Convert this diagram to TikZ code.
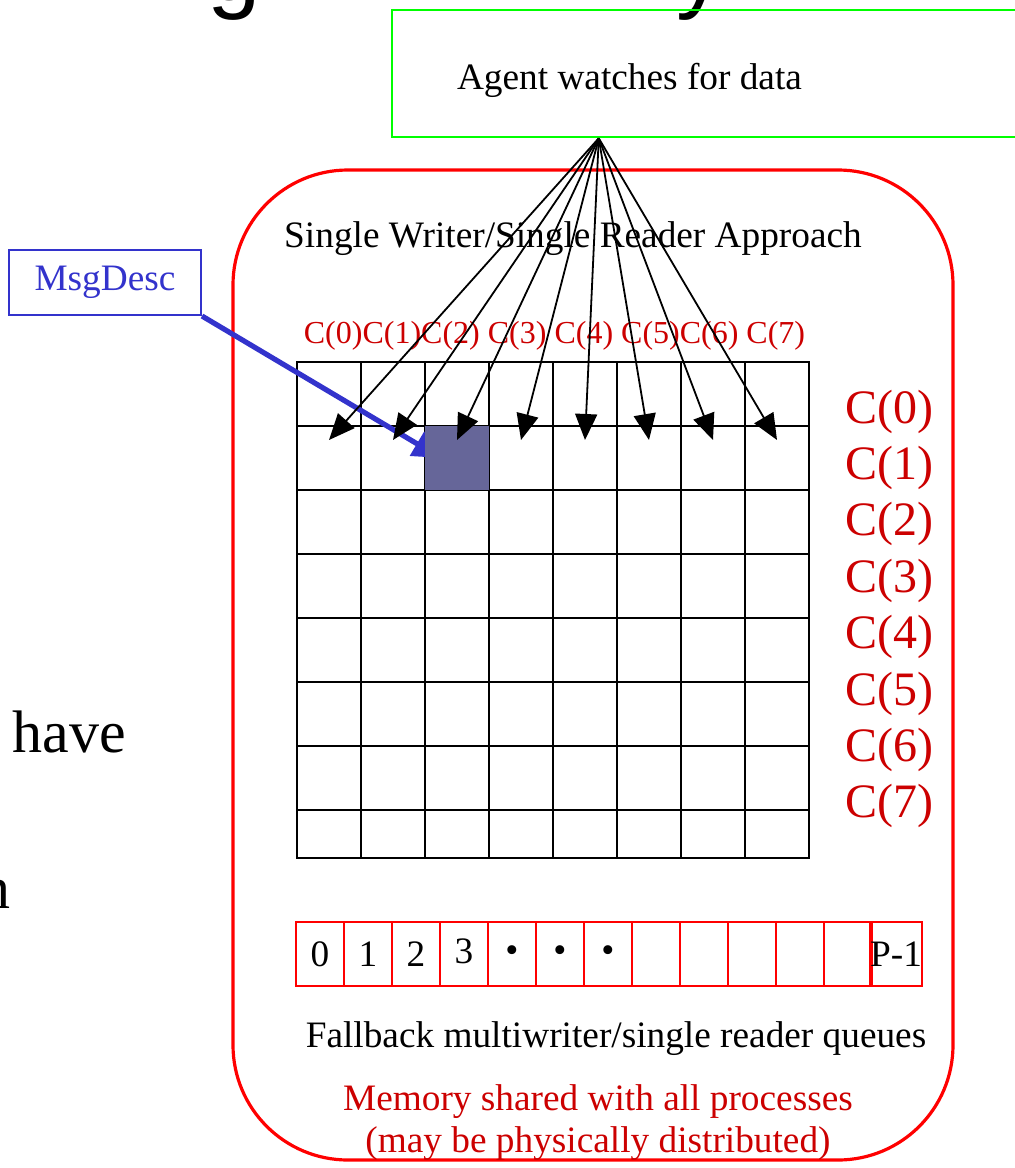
\documentclass[tikz,border=0pt]{standalone}
\usepackage{fontspec}
\setmainfont{Liberation Serif}
\newfontfamily\titlefont{Liberation Sans}
\usetikzlibrary{arrows.meta, positioning}
\definecolor{deepred}{RGB}{204,0,0}
\definecolor{slate}{RGB}{102,102,153}
\definecolor{msgblue}{RGB}{51,51,204}
\definecolor{agentgreen}{RGB}{0,255,0}

\begin{document}
\begin{tikzpicture}[
      x=0.5pt, y=-0.5pt,
      txt/.style={font=\fontsize{18.65}{22}\selectfont, inner sep=0pt},
      big/.style={font=\fontsize{30}{36}\selectfont, inner sep=0pt},
      titlefrag/.style={font=\titlefont\fontsize{48}{56}\selectfont, inner sep=0pt},
      collbl/.style={font=\fontsize{16}{19}\selectfont, text=deepred, inner sep=0pt},
      rowlbl/.style={font=\fontsize{24}{28}\selectfont, text=deepred, inner sep=0pt},
      cell/.style={draw, line width=1.2pt, minimum width=32pt, minimum height=32pt,
                   inner sep=0pt, outer sep=0pt},
      qcell/.style={draw=red, line width=1pt, minimum width=24pt, minimum height=32pt,
                    inner sep=0pt, outer sep=0pt, font=\fontsize{18.65}{22}\selectfont},
      watchline/.style={-{Triangle[length=13pt, width=11pt]}, line width=0.9pt},
      feed/.style={draw=msgblue, line width=2.6pt, -{Triangle[length=14pt, width=13.5pt]}}
  ]
      \useasboundingbox (0,0) rectangle (1014,1168);

      % slide text cut off by the crop
      \node[titlefrag, anchor=base west] (title-g) at (207,0) {g};
      \node[titlefrag, anchor=base west] (title-y) at (676,0) {y};
      \node[big, anchor=base west] (have) at (12,752) {have};
      \node[big, anchor=base east] (cutn) at (11,908) {n};

      % shared memory region
      \node (shared) [draw=red, line width=1.6pt, rounded corners=57.5pt,
                      minimum width=360pt, minimum height=495pt] at (593,665) {};

      % agent
      \node (agent) [draw=agentgreen, line width=1.25pt, minimum width=324pt,
                     minimum height=63.5pt] at (716,73.5) {};
      \node[txt, anchor=base] (agenttxt) at (629.5,89) {Agent watches for data};
      \coordinate (watch) at ([xshift=104pt]agent.south west);

      \node[txt, anchor=base] (approach) at (573,247)
          {Single Writer/Single Reader Approach};
      \node[collbl, anchor=base] (collbl) at (554.5,343)
          {C(0)C(1)C(2) C(3) C(4) C(5)C(6) C(7)};

      % single writer / single reader grid
      \foreach \r in {0,...,6}
        \foreach \c in {0,...,7}
          \node[cell] (cell-\r-\c) at ({329+64*\c}, {394+64*\r}) {};
      \foreach \c in {0,...,7}
        \node[cell, minimum height=24pt] (cell-7-\c) at ({329+64*\c}, 834) {};

      \foreach \i in {0,...,7}
        \node[rowlbl, anchor=base] (rowlbl-\i) at (889, {423+56.4*\i}) {C(\i)};

      % message descriptor
      \node (msg) [draw=msgblue, line width=1pt, txt, text=msgblue,
                   minimum width=96pt, minimum height=32.5pt] at (105,282.5) {MsgDesc};
      \coordinate (msgtip) at ([xshift=-8pt]cell-1-2.center);
      \draw[feed] (msg.south east) -- (msgtip);
      \fill[slate] (cell-1-2.south west) rectangle (cell-1-2.north east);

      \foreach \c in {0,...,7}
        \draw[watchline] (watch) -- ([yshift=-7pt]cell-1-\c.north);

      % fallback queues
      \foreach \lab [count=\i from 0] in {0,1,2,\raisebox{2.5pt}{3},•,•,•,{},{},{},{},{},P-1}
        \node[qcell] (queue-\i) at ({320+48*\i}, 954) {\lab};

      \node[txt, anchor=base] (fallback) at (616,1047)
          {Fallback multiwriter/single reader queues};
      \node[txt, anchor=base, text=deepred] (memory) at (598,1110)
          {Memory shared with all processes};
      \node[txt, anchor=base, text=deepred] (distrib) at (598,1152)
          {(may be physically distributed)};
  \end{tikzpicture}
\end{document}
